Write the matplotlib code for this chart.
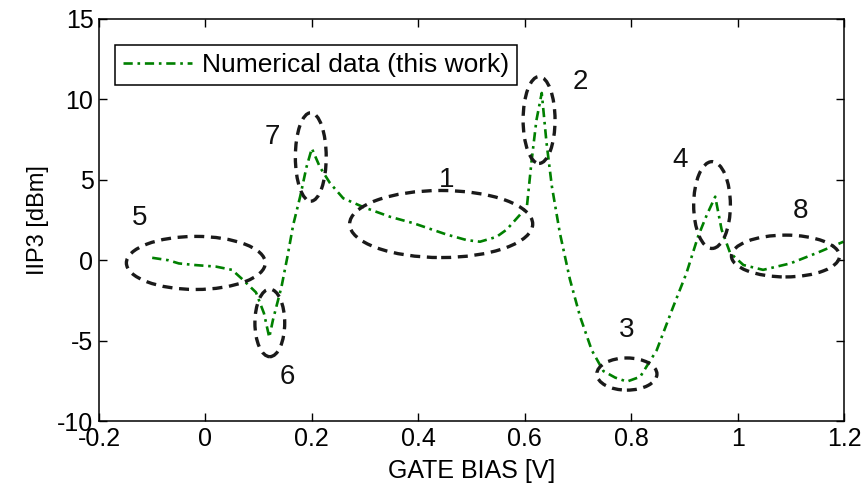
import matplotlib
matplotlib.use("Agg")
import matplotlib.pyplot as plt
from matplotlib.patches import Ellipse

# IIP3 vs gate bias
gate_bias = [-0.10, -0.07, -0.05, -0.02, 0.02, 0.05, 0.07, 0.095, 0.11, 0.12,
             0.127, 0.143, 0.154, 0.165, 0.178, 0.19, 0.20, 0.215, 0.234, 0.259,
             0.297, 0.347, 0.391, 0.453, 0.491, 0.516, 0.547, 0.566, 0.585, 0.604,
             0.613, 0.622, 0.632, 0.641, 0.651, 0.666, 0.685, 0.704, 0.726, 0.748,
             0.77, 0.792, 0.817, 0.848, 0.879, 0.904, 0.926, 0.942, 0.958, 0.97,
             0.986, 1.011, 1.048, 1.099, 1.149, 1.199]
iip3 = [0.15, 0.0, -0.2, -0.3, -0.4, -0.6, -1.2, -2.0, -3.3, -4.8,
        -3.7, -1.65, 0.2, 2.2, 3.95, 5.8, 6.95, 5.8, 4.8, 3.85,
        3.3, 2.7, 2.3, 1.6, 1.25, 1.15, 1.45, 1.9, 2.6, 3.3,
        6.2, 8.7, 10.4, 7.3, 4.6, 1.7, -1.2, -3.5, -5.6, -6.9,
        -7.3, -7.55, -7.25, -5.6, -2.9, -0.8, 1.5, 2.8, 3.95, 1.9,
        0.45, -0.3, -0.6, -0.2, 0.45, 1.15]

# marked regions: label, centre x, centre y, width, height, label x, label y
region_labels = ['1', '2', '3', '4', '5', '6', '7', '8']
region_cx = [0.443, 0.627, 0.792, 0.952, -0.018, 0.121, 0.198, 1.09]
region_cy = [2.25, 8.72, -7.08, 3.43, -0.17, -3.9, 6.42, 0.26]
region_w = [0.344, 0.060, 0.113, 0.069, 0.261, 0.056, 0.058, 0.203]
region_h = [4.17, 5.4, 2.0, 5.4, 3.3, 4.2, 5.5, 2.6]
label_x = [0.454, 0.704, 0.792, 0.892, -0.123, 0.153, 0.125, 1.119]
label_y = [4.98, 11.08, -4.34, 6.23, 2.62, -7.26, 7.66, 3.06]

plt.rcParams['font.family'] = ['Liberation Sans', 'DejaVu Sans']
plt.rcParams['axes.unicode_minus'] = False

fig = plt.figure(figsize=(8.66, 4.96), dpi=100, facecolor='white')
ax = fig.add_axes([0.1143, 0.1512, 0.8603, 0.8105])

ax.plot(gate_bias, iip3, color='#008000', linewidth=1.9,
        linestyle=(0, (3.5, 1.8, 1, 1.8)), label='Numerical data (this work)')

for i in range(len(region_labels)):
    e = Ellipse((region_cx[i], region_cy[i]), region_w[i], region_h[i],
                fill=False, edgecolor='#1a1a1a', linewidth=2.4,
                linestyle=(0, (3, 2)), clip_on=False, zorder=3)
    ax.add_patch(e)
    ax.text(label_x[i], label_y[i], region_labels[i], fontsize=20,
            ha='center', va='center', color='#111111')

ax.set_xlim(-0.2, 1.2)
ax.set_ylim(-10, 15)
ax.set_xticks([-0.2, 0, 0.2, 0.4, 0.6, 0.8, 1, 1.2])
ax.set_xticklabels(['-0.2', '0', '0.2', '0.4', '0.6', '0.8', '1', '1.2'])
ax.set_yticks([-10, -5, 0, 5, 10, 15])
ax.tick_params(direction='in', length=6, width=1, top=True, right=True,
               labelsize=18)
ax.tick_params(axis='x', pad=4)
ax.tick_params(axis='y', pad=4)
for s in ax.spines.values():
    s.set_linewidth(1.1)

ax.set_xlabel('GATE BIAS [V]', fontsize=18, labelpad=6)
ax.set_ylabel('IIP3 [dBm]', fontsize=17, labelpad=6)

leg = ax.legend(loc='upper left', bbox_to_anchor=(0.0215, 0.935),
                borderaxespad=0, fancybox=False, framealpha=1,
                edgecolor='black', fontsize=19, handlelength=2.6,
                handletextpad=0.4, borderpad=0.3)
leg.get_frame().set_linewidth(1.1)

plt.savefig('out.png', dpi=100)
